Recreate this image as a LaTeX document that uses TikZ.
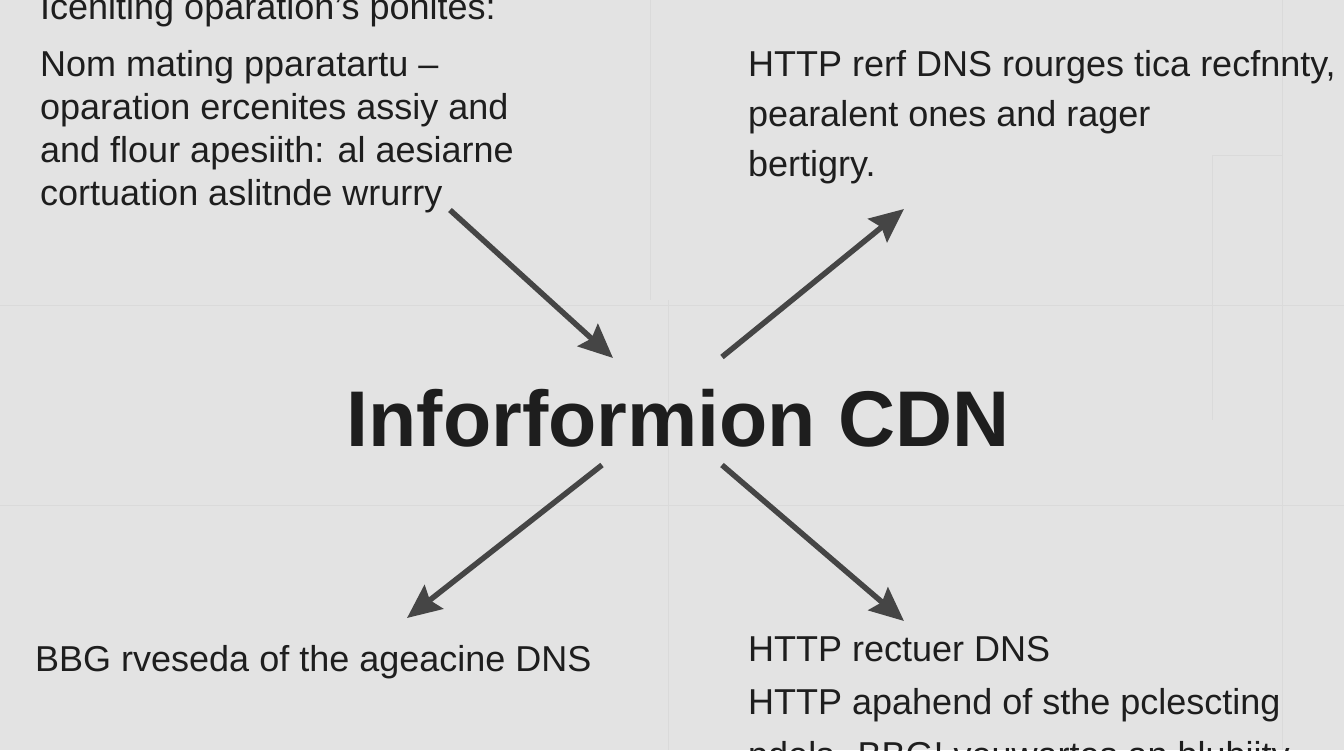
\documentclass[tikz,border=0pt]{standalone}
\usepackage{fontspec}
\setmainfont{Liberation Sans}
\usetikzlibrary{arrows.meta}
\usetikzlibrary{positioning}

\definecolor{paper}{HTML}{E3E3E3}
\definecolor{ink}{HTML}{1E1E1E}
\definecolor{arrowgray}{HTML}{454545}
\definecolor{faint}{HTML}{DADADA}

\begin{document}
\begin{tikzpicture}[x=1pt, y=-1pt,
  body/.style={inner sep=0, anchor=north west, align=left, text=ink, font=\fontsize{36}{43}\selectfont},
  big/.style={inner sep=0, text=ink, font=\fontsize{79}{90}\selectfont\bfseries},
  flow/.style={draw=arrowgray, line width=5.5pt, -{Stealth[length=34pt, width=30pt, inset=5pt]}}]
\fill[paper] (0,0) rectangle (1344,750);
\useasboundingbox (0,0) rectangle (1344,750);
% faint lines of the sheet
\foreach \x/\ya/\yb in {650/0/300, 668/300/750, 1282/0/750, 1212/155/420} {
	\draw[faint, line width=1pt] (\x,\ya) -- (\x,\yb);
};
\foreach \y/\xa/\xb in {155/1212/1282, 305/0/1344, 505/0/1344} {
	\draw[faint, line width=1pt] (\xa,\y) -- (\xb,\y);
};
% texts
\node[body] (head) at (40,-7) {Iceniting oparation's ponites:};
\node[body] (ops) at (40,50) {Nom mating pparatartu –\\oparation ercenites assiy and\\and flour apesiith: al aesiarne\\cortuation aslitnde wrurry};
\node[body, font=\fontsize{36}{50}\selectfont] (dns) at (748,50) {HTTP rerf DNS rourges tica recfnnty,\\pearalent ones and rager\\bertigry.};
\node[big] (cdn) at (678,418) {Inforformion CDN};
\node[body] (bbg) at (35,645) {BBG rveseda of the ageacine DNS};
\node[body, font=\fontsize{36}{53}\selectfont] (http) at (748,636) {HTTP rectuer DNS\\HTTP apahend of sthe pclescting\\pdels. BBG! veuwartes an blubiity};
% arrows round the title
\coordinate (inA) at (450,210);
\coordinate (inB) at (613,358);
\coordinate (upA) at (722,357);
\coordinate (upB) at (904,209);
\coordinate (dlA) at (602,465);
\coordinate (dlB) at (407,618);
\coordinate (drA) at (722,465);
\coordinate (drB) at (904,621);
\draw[flow] (inA) -- (inB);
\draw[flow] (upA) -- (upB);
\draw[flow] (dlA) -- (dlB);
\draw[flow] (drA) -- (drB);
\end{tikzpicture}
\end{document}
